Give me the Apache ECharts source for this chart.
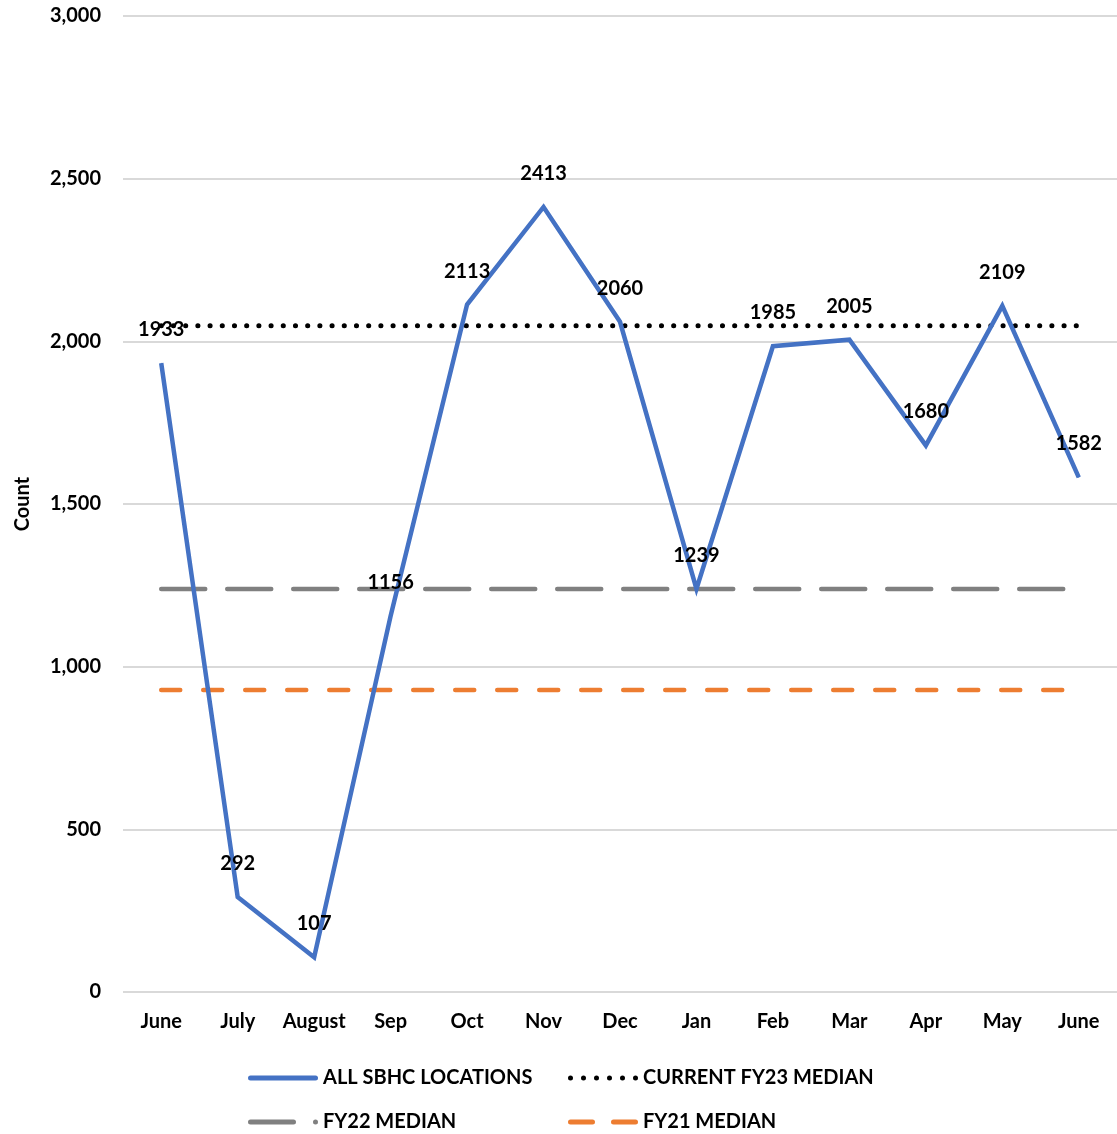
<!DOCTYPE html>
<html>
<head>
<meta charset="utf-8">
<script src="https://cdn.jsdelivr.net/npm/echarts@6/dist/echarts.min.js"></script>
<style>
  html, body { margin: 0; padding: 0; background: #fff; }
  #chart { width: 1117px; height: 1134px; }
</style>
</head>
<body>
<div id="chart"></div>
<script>
// Monthly counts across all school-based health center locations
const months = ['June', 'July', 'August', 'Sep', 'Oct', 'Nov', 'Dec', 'Jan', 'Feb', 'Mar', 'Apr', 'May', 'June'];
const allLocations = [1933, 292, 107, 1156, 2113, 2413, 2060, 1239, 1985, 2005, 1680, 2109, 1582];
const fy23Median = 2048;
const fy22Median = 1239;
const fy21Median = 928;
const yTicks = { min: 0, max: 3000, step: 500 };

const FONT = 'Lato, "Liberation Sans", Arial, sans-serif';
const flat = v => months.map(() => v);

// legend swatches drawn as paths (70 x 5 box)
const dot = x => `M${x},2.5a2.5,2.5 0 1,0 5,0a2.5,2.5 0 1,0 -5,0Z`;
const bar = (x0, x1) => `M${x0 + 2.5},0H${x1 - 2.5}a2.5,2.5 0 0,1 0,5H${x0 + 2.5}a2.5,2.5 0 0,1 0,-5Z`;
const ICONS = {
  solid: 'path://' + bar(0, 70),
  dotted: 'path://' + [0, 13, 26, 39, 52, 65].map(dot).join(''),
  longDash: 'path://' + bar(0, 48) + dot(65),
  shortDash: 'path://' + bar(0, 27) + bar(43, 70)
};

const chart = echarts.init(document.getElementById('chart'), null, { renderer: 'canvas' });

const legendText = { fontFamily: FONT, fontWeight: 'bold', fontSize: 20, color: '#000' };
function legendAt(name, icon, left, top) {
  return {
    data: [{ name: name, icon: icon }], left: left, top: top,
    padding: 0,
    itemWidth: 70, itemHeight: 5, itemGap: 6,
    itemStyle: { borderWidth: 0 },
    textStyle: legendText, selectedMode: false
  };
}

chart.setOption({
  animation: false,
  backgroundColor: '#fff',
  grid: { left: 123, right: -3, top: 16, bottom: 142 },
  xAxis: {
    type: 'category',
    data: months,
    boundaryGap: true,
    axisLine: { show: false },
    axisTick: { show: false },
    axisLabel: { interval: 0, fontFamily: FONT, fontWeight: 'bold', fontSize: 20, color: '#000', margin: 20 }
  },
  yAxis: {
    type: 'value',
    min: yTicks.min, max: yTicks.max, interval: yTicks.step,
    name: 'Count',
    nameLocation: 'middle',
    nameGap: 90,
    nameRotate: 90,
    nameTextStyle: { fontFamily: FONT, fontWeight: 'bold', fontSize: 20, color: '#000' },
    axisLine: { show: false },
    axisTick: { show: false },
    splitLine: { lineStyle: { color: '#d9d9d9', width: 2 } },
    axisLabel: {
      fontFamily: FONT, fontWeight: 'bold', fontSize: 20, color: '#000', margin: 22,
      formatter: v => v.toLocaleString('en-US')
    }
  },
  legend: [
    legendAt('ALL SBHC LOCATIONS', ICONS.solid, 248, 1068),
    legendAt('CURRENT FY23 MEDIAN', ICONS.dotted, 568, 1068),
    legendAt('FY22 MEDIAN', ICONS.longDash, 248, 1112),
    legendAt('FY21 MEDIAN', ICONS.shortDash, 568, 1112)
  ],
  series: [
    {
      name: 'FY22 MEDIAN', type: 'line', data: flat(fy22Median),
      symbol: 'none', z: 2,
      lineStyle: { color: '#808080', width: 4.5, type: [44, 22], cap: 'round' },
      itemStyle: { color: '#808080' }
    },
    {
      name: 'FY21 MEDIAN', type: 'line', data: flat(fy21Median),
      symbol: 'none', z: 2,
      lineStyle: { color: '#ED7D31', width: 4.5, type: [19, 23], cap: 'round' },
      itemStyle: { color: '#ED7D31' }
    },
    {
      name: 'CURRENT FY23 MEDIAN', type: 'line', data: flat(fy23Median),
      symbol: 'none', z: 2,
      lineStyle: { color: '#000', width: 5, type: [0.1, 12.1], cap: 'round' },
      itemStyle: { color: '#000' }
    },
    {
      name: 'ALL SBHC LOCATIONS', type: 'line', data: allLocations,
      symbol: 'circle', symbolSize: 1, showSymbol: true, z: 3,
      lineStyle: { color: '#4472C4', width: 4.5, join: 'miter' },
      itemStyle: { color: '#4472C4' },
      label: {
        show: true, position: 'top', distance: 23,
        fontFamily: FONT, fontWeight: 'bold', fontSize: 20, color: '#000'
      }
    }
  ]
});
</script>
</body>
</html>
